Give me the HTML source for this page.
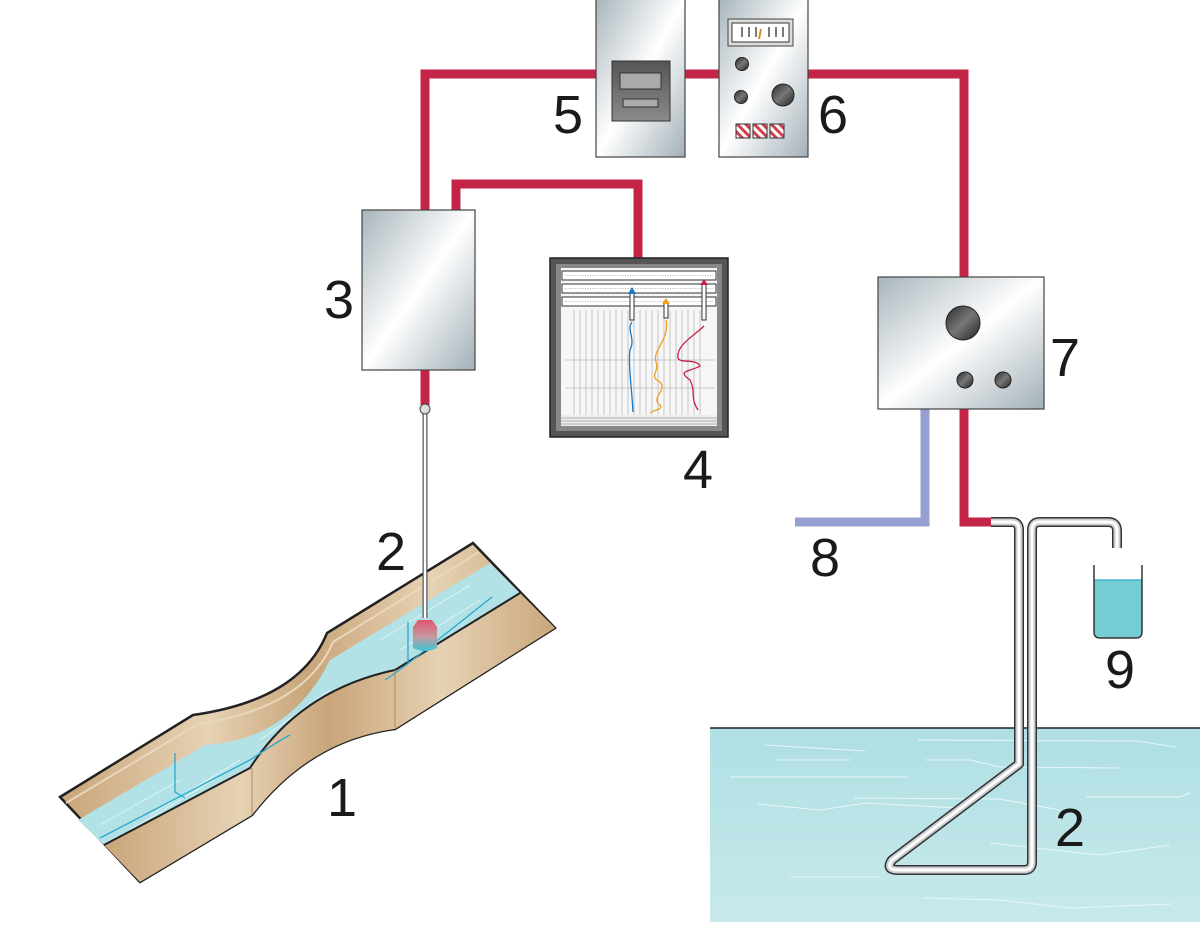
<!DOCTYPE html>
<html><head><meta charset="utf-8"><style>
html,body{margin:0;padding:0;background:#fff;}
svg{display:block;}
text{font-family:"Liberation Sans",sans-serif;font-size:54px;fill:#1a1a1a;}
</style></head><body>
<svg width="1200" height="949" viewBox="0 0 1200 949" xmlns="http://www.w3.org/2000/svg">
<defs>
<linearGradient id="metal" x1="0" y1="0" x2="1" y2="1">
<stop offset="0" stop-color="#a8b5bc"/><stop offset="0.5" stop-color="#ffffff"/><stop offset="1" stop-color="#a2b0b8"/>
</linearGradient>
<linearGradient id="knob" x1="0" y1="0" x2="1" y2="1">
<stop offset="0" stop-color="#2a2a2a"/><stop offset="0.5" stop-color="#777"/><stop offset="1" stop-color="#222"/>
</linearGradient>
<linearGradient id="pool" x1="0" y1="0" x2="0" y2="1">
<stop offset="0" stop-color="#aedfe3"/><stop offset="1" stop-color="#c8e9eb"/>
</linearGradient>
<linearGradient id="wood" x1="0" y1="0" x2="1" y2="0">
<stop offset="0" stop-color="#c9a57a"/><stop offset="0.3" stop-color="#e6d2b4"/><stop offset="0.5" stop-color="#c9a57a"/><stop offset="0.75" stop-color="#e6d2b4"/><stop offset="1" stop-color="#caa77c"/>
</linearGradient>
<linearGradient id="sensor" x1="0" y1="0" x2="0" y2="1">
<stop offset="0" stop-color="#e0566e"/><stop offset="0.55" stop-color="#c29aa2"/><stop offset="1" stop-color="#3cc6d6"/>
</linearGradient>
<linearGradient id="disp" x1="0" y1="0" x2="0" y2="1">
<stop offset="0" stop-color="#555"/><stop offset="1" stop-color="#8a8a8a"/>
</linearGradient>
<pattern id="stripe" width="6" height="6" patternUnits="userSpaceOnUse" patternTransform="rotate(-45)">
<rect width="6" height="6" fill="#fff"/><rect width="3" height="6" fill="#d04050"/>
</pattern>
</defs>

<!-- red wires -->
<g fill="none" stroke="#c42546" stroke-width="9">
<polyline points="425,210 425,74 600,74"/>
<line x1="684" y1="74" x2="720" y2="74"/>
<polyline points="806,74 964,74 964,280"/>
<polyline points="456,210 456,184 638,184 638,260"/>
<line x1="425" y1="368" x2="425" y2="405"/>
<polyline points="964,408 964,522 992,522"/>
</g>
<polyline points="925,408 925,522 795,522" fill="none" stroke="#95a0d0" stroke-width="9"/>

<!-- box 5 -->
<rect x="596" y="-1" width="89" height="158" fill="url(#metal)" stroke="#444" stroke-width="1.2"/>
<rect x="612" y="61" width="58" height="60" fill="url(#disp)" stroke="#333"/>
<rect x="620" y="73" width="41" height="16" fill="#aaa" stroke="#333"/>
<rect x="623" y="99" width="35" height="8" fill="#aaa" stroke="#333"/>
<!-- box 6 -->
<rect x="719" y="-1" width="89" height="158" fill="url(#metal)" stroke="#444" stroke-width="1.2"/>
<rect x="728" y="19" width="65" height="27" fill="#ddd" stroke="#444"/>
<rect x="732" y="23" width="57" height="19" fill="#fff" stroke="#333"/>
<g stroke="#222" stroke-width="1.2"><line x1="742" y1="27" x2="742" y2="37"/><line x1="749" y1="27" x2="749" y2="37"/><line x1="756" y1="27" x2="756" y2="37"/><line x1="769" y1="27" x2="769" y2="37"/><line x1="776" y1="27" x2="776" y2="37"/><line x1="783" y1="27" x2="783" y2="37"/></g>
<line x1="759" y1="39" x2="761" y2="29" stroke="#d8901a" stroke-width="2"/>
<circle cx="742" cy="64" r="6.5" fill="url(#knob)" stroke="#222"/>
<circle cx="741" cy="97" r="6.5" fill="url(#knob)" stroke="#222"/>
<circle cx="783" cy="95" r="11" fill="url(#knob)" stroke="#222"/>
<rect x="736" y="124" width="14" height="14" fill="url(#stripe)" stroke="#333"/>
<rect x="753" y="124" width="14" height="14" fill="url(#stripe)" stroke="#333"/>
<rect x="770" y="124" width="14" height="14" fill="url(#stripe)" stroke="#333"/>
<!-- box 3 -->
<rect x="362" y="210" width="113" height="160" fill="url(#metal)" stroke="#444" stroke-width="1.2"/>
<!-- box 7 -->
<rect x="878" y="277" width="166" height="132" fill="url(#metal)" stroke="#444" stroke-width="1.2"/>
<circle cx="963" cy="323" r="17" fill="url(#knob)" stroke="#222"/>
<circle cx="965" cy="380" r="8" fill="url(#knob)" stroke="#222"/>
<circle cx="1003" cy="380" r="8" fill="url(#knob)" stroke="#222"/>

<!-- recorder 4 -->
<rect x="550" y="258" width="178" height="179" fill="#555" stroke="#222" stroke-width="1.5"/>
<rect x="556" y="264" width="166" height="167" fill="#888"/>
<rect x="561" y="268" width="156" height="158" fill="#f6f6f6"/>
<g stroke="#bbb" stroke-width="0.8">
<line x1="574" y1="310" x2="574" y2="415"/><line x1="580" y1="310" x2="580" y2="415"/><line x1="586" y1="310" x2="586" y2="415"/><line x1="592" y1="310" x2="592" y2="415"/><line x1="598" y1="310" x2="598" y2="415"/><line x1="604" y1="310" x2="604" y2="415"/><line x1="610" y1="310" x2="610" y2="415"/><line x1="616" y1="310" x2="616" y2="415"/><line x1="622" y1="310" x2="622" y2="415"/><line x1="628" y1="310" x2="628" y2="415"/><line x1="634" y1="310" x2="634" y2="415"/><line x1="640" y1="310" x2="640" y2="415"/><line x1="646" y1="310" x2="646" y2="415"/><line x1="652" y1="310" x2="652" y2="415"/><line x1="658" y1="310" x2="658" y2="415"/><line x1="664" y1="310" x2="664" y2="415"/><line x1="670" y1="310" x2="670" y2="415"/><line x1="676" y1="310" x2="676" y2="415"/><line x1="682" y1="310" x2="682" y2="415"/><line x1="688" y1="310" x2="688" y2="415"/><line x1="694" y1="310" x2="694" y2="415"/><line x1="700" y1="310" x2="700" y2="415"/>
<line x1="565" y1="360" x2="715" y2="360"/><line x1="565" y1="388" x2="715" y2="388"/>
</g>
<rect x="561" y="415" width="156" height="11" fill="#eee"/>
<g stroke="#999" stroke-width="0.7"><line x1="561" y1="418" x2="717" y2="418"/><line x1="561" y1="421" x2="717" y2="421"/><line x1="561" y1="424" x2="717" y2="424"/></g>
<g fill="#fff" stroke="#333" stroke-width="1">
<rect x="562" y="271" width="154" height="9"/><rect x="562" y="284" width="154" height="9"/><rect x="562" y="297" width="154" height="9"/>
</g>
<g stroke="#666" stroke-width="0.6">
<line x1="565" y1="275.5" x2="713" y2="275.5" stroke-dasharray="1,1.5"/><line x1="565" y1="288.5" x2="713" y2="288.5" stroke-dasharray="1,1.5"/><line x1="565" y1="301.5" x2="713" y2="301.5" stroke-dasharray="1,1.5"/>
</g>
<path d="M632,322 C626,330 636,338 630,350 C628,365 632,390 633,412" fill="none" stroke="#1a7ac8" stroke-width="1.3"/>
<path d="M666,320 C670,340 652,350 656,362 C660,372 648,376 660,382 C668,390 650,398 660,405 C664,410 652,410 650,413" fill="none" stroke="#f0a020" stroke-width="1.3"/>
<path d="M704,326 C694,336 676,345 678,358 C680,364 696,358 700,366 C690,372 676,370 690,380 C696,392 690,398 698,410" fill="none" stroke="#c42546" stroke-width="1.3"/>
<g stroke="#333" stroke-width="1" fill="#fff">
<rect x="630" y="292" width="4" height="28"/><rect x="664" y="302" width="4" height="16"/><rect x="702" y="284" width="4" height="36"/>
</g>
<polygon points="628,294 632,287 636,294" fill="#1a7ac8"/>
<polygon points="662,304 666,298 670,304" fill="#f0a020"/>
<polygon points="700,285 704,279 708,285" fill="#c42546"/>

<!-- flume -->
<path d="M60,797 L193,715 Q300,700 327,633 L473,543 L555,628 L395,729 Q310,740 252,815 L140,882 Z" fill="url(#wood)" stroke="#222" stroke-width="2.5"/>
<path d="M66,803 L198,724 Q305,708 333,642 L479,552" fill="none" stroke="#e9d7bc" stroke-width="2"/>
<path d="M78,820 L205,745 Q290,740 330,660 L490,563 L520,593 L395,670 Q300,690 250,768 L104,845 Z" fill="#b2e2e6"/>
<g stroke="#e4f5f6" stroke-width="0.8" fill="none">
<path d="M100,825 L180,780"/><path d="M130,830 L230,770"/><path d="M260,740 L330,690"/><path d="M280,745 L340,700"/><path d="M380,640 L470,585"/><path d="M400,650 L480,600"/><path d="M150,815 L240,760"/>
</g>
<path d="M104,845 L250,768 Q300,690 395,670 L520,593 L555,628 L395,729 Q310,740 252,815 L140,882 Z" fill="url(#wood)"/>
<path d="M104,845 L250,768 Q300,690 395,670 L520,593" fill="none" stroke="#222" stroke-width="2"/>
<path d="M100,838 L250,760" fill="none" stroke="#2aa8cc" stroke-width="1.3"/>
<path d="M385,680 Q400,670 410,662 L492,597 M408,622 L408,663 M175,753 L175,792 L185,798 M250,760 Q280,740 290,735" fill="none" stroke="#2aa8cc" stroke-width="1.3"/>
<line x1="252" y1="815" x2="252" y2="768" stroke="#b08a5e" stroke-width="1"/>
<line x1="395" y1="729" x2="395" y2="670" stroke="#b08a5e" stroke-width="1"/>

<!-- probe rod -->
<line x1="425" y1="410" x2="425" y2="618" stroke="#555" stroke-width="5"/>
<line x1="425" y1="410" x2="425" y2="618" stroke="#fff" stroke-width="2.5"/>
<circle cx="425" cy="409" r="5" fill="#ddd" stroke="#444"/>
<path d="M418,620 L432,620 L437,627 L437,648 Q425,654 413,648 L413,627 Z" fill="url(#sensor)"/>

<!-- pool -->
<rect x="710" y="728" width="490" height="194" fill="url(#pool)"/>
<line x1="710" y1="728" x2="1200" y2="728" stroke="#222" stroke-width="1.5"/>
<g stroke="#e8f6f7" stroke-width="1" fill="none">
<path d="M765,745 L865,751"/><path d="M777,760 L850,760"/><path d="M730,777 L908,777"/><path d="M918,740 L1136,741 L1176,747"/><path d="M926,760 L970,760 L1000,767 L1120,768"/><path d="M854,798 L1000,799 L1060,810"/><path d="M1086,797 L1180,797 L1190,793"/><path d="M758,804 L820,810 L866,803 L960,808"/><path d="M990,843 L1100,855 L1170,845"/><path d="M790,877 L880,877"/><path d="M924,898 L1000,900 L1070,908 L1172,904"/>
</g>

<!-- siphon tube -->
<g fill="none" stroke-linejoin="round" stroke-linecap="butt">
<path d="M991,522 L1012,522 Q1019,522 1019,530 L1019,764 L892,860 Q885,870 898,870 L1024,870 Q1032,870 1032,862 L1032,530 Q1032,522 1040,522 L1108,522 Q1117,522 1117,531 L1117,548" stroke="#333" stroke-width="10"/>
<path d="M991,522 L1012,522 Q1019,522 1019,530 L1019,764 L892,860 Q885,870 898,870 L1024,870 Q1032,870 1032,862 L1032,530 Q1032,522 1040,522 L1108,522 Q1117,522 1117,531 L1117,548" stroke="#c9cdd0" stroke-width="7"/>
<path d="M991,522 L1012,522 Q1019,522 1019,530 L1019,764 L892,860 Q885,870 898,870 L1024,870 Q1032,870 1032,862 L1032,530 Q1032,522 1040,522 L1108,522 Q1117,522 1117,531 L1117,548" stroke="#fff" stroke-width="3"/>
</g>

<!-- beaker -->
<path d="M1094,580 L1142,580 L1142,632 Q1142,638 1136,638 L1100,638 Q1094,638 1094,632 Z" fill="#74cdd3"/>
<line x1="1094" y1="580" x2="1142" y2="580" stroke="#2aa8cc" stroke-width="1.2"/>
<path d="M1094,565 L1094,632 Q1094,638 1100,638 L1136,638 Q1142,638 1142,632 L1142,565" fill="none" stroke="#333" stroke-width="1.5"/>

<!-- labels -->
<text x="553" y="133">5</text>
<text x="818" y="133">6</text>
<text x="324" y="318">3</text>
<text x="683" y="488">4</text>
<text x="1050" y="376">7</text>
<text x="810" y="576">8</text>
<text x="1105" y="688">9</text>
<text x="376" y="570">2</text>
<text x="327" y="816">1</text>
<text x="1055" y="846">2</text>
</svg>
</body></html>
